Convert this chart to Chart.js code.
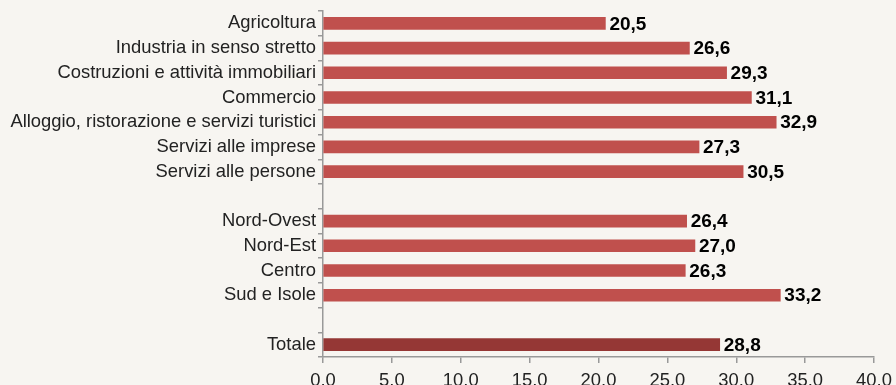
<!DOCTYPE html>
<html>
<head>
<meta charset="utf-8">
<script src="https://cdn.jsdelivr.net/npm/chart.js@4.4.1/dist/chart.umd.min.js"></script>
<style>
  html, body { margin: 0; padding: 0; background: #f7f5f1; overflow: hidden; }
  #wrap { width: 896px; height: 385px; }
</style>
</head>
<body>
<div id="wrap"><canvas id="chart"></canvas></div>
<script>
// categories (empty strings are the gaps between groups)
const categories = [
  'Agricoltura',
  'Industria in senso stretto',
  'Costruzioni e attività immobiliari',
  'Commercio',
  'Alloggio, ristorazione e servizi turistici',
  'Servizi alle imprese',
  'Servizi alle persone',
  '',
  'Nord-Ovest',
  'Nord-Est',
  'Centro',
  'Sud e Isole',
  '',
  'Totale'
];
const values = [20.5, 26.6, 29.3, 31.1, 32.9, 27.3, 30.5, null, 26.4, 27.0, 26.3, 33.2, null, 28.8];
const xTicks = [0, 5, 10, 15, 20, 25, 30, 35, 40];

const barColor = '#c0504d';
const totalColor = '#953735';
const axisColor = '#999999';
const fontFamily = '"Liberation Sans", Arial, sans-serif';

const fmt = v => v.toFixed(1).replace('.', ',');

// draw the value next to each bar
const valueLabels = {
  id: 'valueLabels',
  afterDatasetsDraw(chart) {
    const ctx = chart.ctx;
    const meta = chart.getDatasetMeta(0);
    ctx.save();
    ctx.font = 'bold 19px ' + fontFamily;
    ctx.fillStyle = '#000';
    ctx.textAlign = 'left';
    ctx.textBaseline = 'middle';
    meta.data.forEach((bar, i) => {
      if (values[i] == null) return;
      ctx.fillText(fmt(values[i]), bar.x + 4, bar.y + 1);
    });
    ctx.restore();
  }
};

new Chart(document.getElementById('chart'), {
  type: 'bar',
  data: {
    labels: categories,
    datasets: [{
      data: values,
      backgroundColor: categories.map(c => c === 'Totale' ? totalColor : barColor),
      barThickness: 12,
      borderWidth: 0
    }]
  },
  options: {
    indexAxis: 'y',
    responsive: true,
    maintainAspectRatio: false,
    animation: false,
    layout: { padding: { top: 11, right: 22, left: 0, bottom: 0 } },
    plugins: {
      legend: { display: false },
      tooltip: { enabled: false }
    },
    scales: {
      x: {
        min: 0,
        max: 40,
        afterBuildTicks: scale => { scale.ticks = xTicks.map(v => ({ value: v })); },
        afterFit: scale => {
          scale.height = 28;
          scale.paddingLeft = 0;
          scale.paddingRight = 0;
        },
        grid: { drawOnChartArea: false, color: axisColor, tickLength: 6, lineWidth: 1.5 },
        border: { color: axisColor, width: 1.5 },
        ticks: {
          color: '#222',
          font: { family: fontFamily, size: 18.4 },
          padding: 7,
          maxRotation: 0,
          callback: v => fmt(v)
        }
      },
      y: {
        afterFit: scale => {
          scale.width = 323;
          scale.paddingTop = 0;
          scale.paddingBottom = 0;
        },
        grid: { drawOnChartArea: false, color: axisColor, tickLength: 5, offset: true, lineWidth: 1.5 },
        border: { color: axisColor, width: 1.5 },
        ticks: {
          color: '#222',
          font: { family: fontFamily, size: 18.4 },
          padding: 2,
          autoSkip: false
        }
      }
    }
  },
  plugins: [valueLabels]
});
</script>
</body>
</html>
